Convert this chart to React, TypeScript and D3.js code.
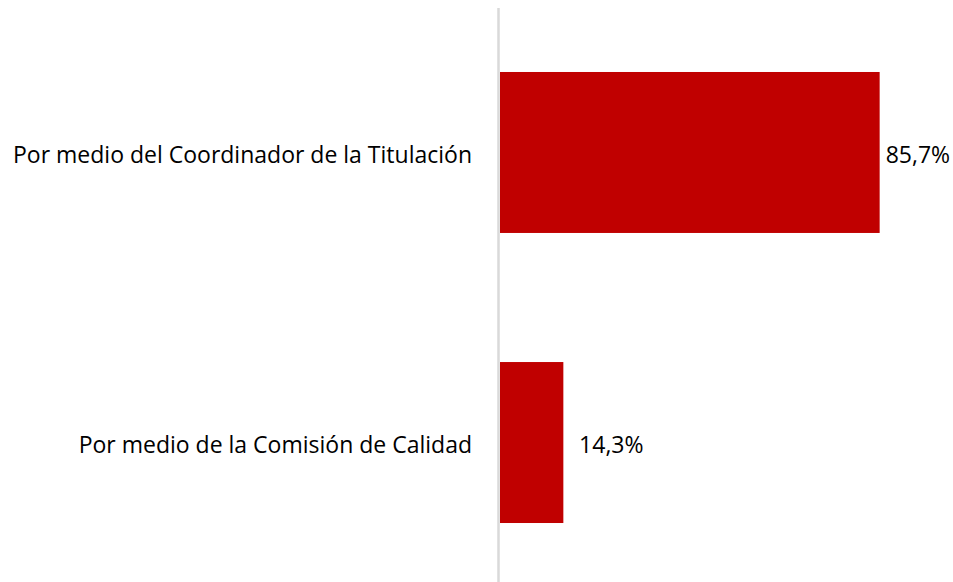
import React from "react";
import * as d3 from "d3";

const categories = ["Por medio del Coordinador de la Titulación", "Por medio de la Comisión de Calidad"];
const values = [85.7, 14.3];
const valueLabels = ["85,7%", "14,3%"];

export default function App() {
  const W = 953, H = 582;
  const x = d3.scaleLinear().domain([0, 100]).range([500, 943]);
  const y = d3.scaleBand<string>().domain(categories).range([10.5, 584.5]).paddingInner(0.445).paddingOuter(0.212);
  const font = "Open Sans, sans-serif";
  const fs = 23;
  return (
    <svg width={W} height={H} style={{ position: "absolute", left: 0, top: 0, background: "#fff" }}>
      {categories.map((c, i) => {
        const y0 = y(c)!;
        const bw = y.bandwidth();
        const cy = y0 + bw / 2 + 2;
        return (
          <g key={c}>
            <rect x={x(0)} y={y0} width={x(values[i]) - x(0)} height={bw} fill="#C00000" />
            <text x={472} y={cy} dy="0.35em" textAnchor="end" fontFamily={font} fontSize={fs} fill="#000">{c}</text>
            <text x={Math.max(x(values[i]), x(16.5)) + 6} y={cy} dy="0.35em" textAnchor="start" fontFamily={font} fontSize={fs} fill="#000">{valueLabels[i]}</text>
          </g>
        );
      })}
      <line x1={498.5} x2={498.5} y1={8} y2={582} stroke="#D9D9D9" strokeWidth={2.5} />
    </svg>
  );
}
